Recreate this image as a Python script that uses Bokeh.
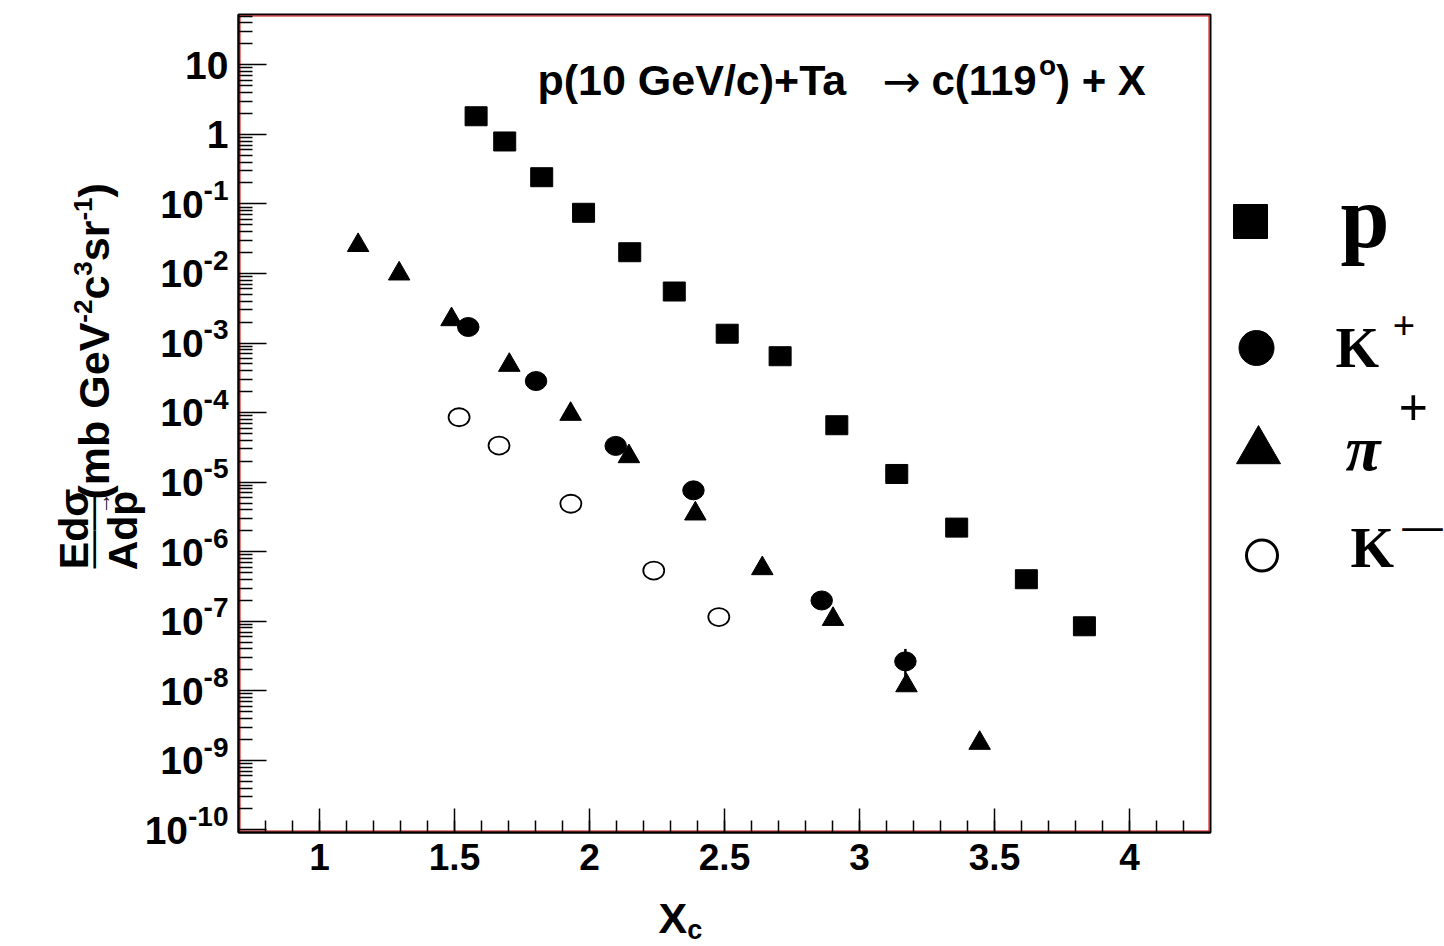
import math
from bokeh.plotting import figure
from bokeh.models import (Range1d, FixedTicker, CustomJSTickFormatter, LinearAxis, LogAxis)
from bokeh.embed import file_html
from bokeh.resources import INLINE
from bokeh.core.properties import value

# ---------------- data ----------------
p_x = [1.580, 1.686, 1.823, 1.978, 2.149, 2.314, 2.510, 2.706, 2.916, 3.138, 3.360, 3.618, 3.833]
p_y = [1.82, 0.79, 0.242, 0.0745, 0.0202, 5.5e-3, 1.36e-3, 6.46e-4, 6.58e-5, 1.31e-5, 2.22e-6, 4.02e-7, 8.47e-8]

kp_x = [1.551, 1.802, 2.097, 2.385, 2.860, 3.170]
kp_y = [1.70e-3, 2.84e-4, 3.32e-5, 7.62e-6, 1.99e-7, 2.65e-8]
kp_err_x = [3.170]
kp_err_lo = [1.60e-8]
kp_err_hi = [4.0e-8]

pip_x = [1.143, 1.295, 1.489, 1.703, 1.930, 2.146, 2.392, 2.640, 2.902, 3.174, 3.445]
pip_y = [2.54e-2, 9.9e-3, 2.18e-3, 4.81e-4, 9.5e-5, 2.34e-5, 3.51e-6, 5.74e-7, 1.07e-7, 1.19e-8, 1.77e-9]

km_x = [1.517, 1.665, 1.931, 2.238, 2.479]
km_y = [8.57e-5, 3.36e-5, 4.89e-6, 5.36e-7, 1.15e-7]

x_major_ticks = [1.0, 1.5, 2.0, 2.5, 3.0, 3.5, 4.0]
x_minor_ticks = [round(0.8 + 0.1 * i, 1) for i in range(35)]
y_tick_exponents = list(range(-10, 2))
legend_names = ["p", "K", "\u03c0", "K"]
legend_sups = ["", "+", "+", "\u2014"]
title_parts = ["p(10 GeV/c)+Ta", "\u2192", "c(119", "o", ") + X"]

# ---------------- layout constants ----------------
W, H = 1444, 946
FL, FR, FT, FB = 238, 1210, 14, 832          # plot box in page pixels
X0, X1 = 0.70, 4.30                           # plot box in data units
LY0, LY1 = -10.037, 1.723                     # log10 of plot box bottom / top
SX = (X1 - X0) / (FR - FL)
SY = (LY1 - LY0) / (FB - FT)
BL = 0.35                                     # baseline correction (em) for text glyphs


def dx(px):
    return X0 + (px - FL) * SX


def dy(py):
    return 10 ** (LY1 - (py - FT) * SY)


AW = {' ': 278, '(': 333, ')': 333, '+': 584, '-': 333, '/': 278, 'A': 722, 'E': 667,
      'G': 778, 'T': 611, 'V': 667, 'X': 667, 'a': 556, 'b': 611, 'c': 556, 'd': 611,
      'e': 556, 'm': 889, 'p': 611, 'r': 389, 's': 556, 'o': 611, '\u03c3': 610,
      '\u2192': 838, '\u2014': 1000}


def adv(s, size):
    return sum(AW.get(ch, 556) for ch in s) / 1000.0 * size


p = figure(width=W, height=H, x_range=Range1d(dx(0), dx(W)), y_range=Range1d(dy(H), dy(0)),
           y_axis_type="log", x_axis_location=None, y_axis_location=None,
           output_backend="svg", toolbar_location=None, min_border=0)
p.title = None
p.grid.visible = False
p.outline_line_color = None
p.background_fill_color = "white"
p.border_fill_color = "white"

# plot box (black frame with thin red inner line)
p.quad(left=[X0], right=[X1], bottom=[10 ** LY0], top=[10 ** LY1], fill_color=None,
       line_color="black", line_width=2)
p.quad(left=[dx(FL + 1.5)], right=[dx(FR - 1.5)], bottom=[dy(FB - 1.5)], top=[dy(FT + 1.5)],
       fill_color=None, line_color="#d40000", line_width=1)

xa = LinearAxis(fixed_location=10 ** LY0, bounds=(X0, X1))
xa.ticker = FixedTicker(ticks=x_major_ticks, minor_ticks=x_minor_ticks)
xa.formatter = CustomJSTickFormatter(code="return tick.toString()")
xa.major_tick_in = 24
xa.major_tick_out = 0
xa.minor_tick_in = 12
xa.minor_tick_out = 0
xa.axis_line_width = 2
xa.major_tick_line_width = 1.5
xa.minor_tick_line_width = 1.5
xa.major_label_text_font = "Liberation Sans"
xa.major_label_text_font_style = "bold"
xa.major_label_text_font_size = "37px"
xa.major_label_text_color = "black"
xa.major_label_standoff = 11
p.add_layout(xa, "below")

y_minor = [m * 10.0 ** k for k in range(-11, 2) for m in range(2, 10)]
y_minor = [v for v in y_minor if LY0 < math.log10(v) < LY1]
ya = LogAxis(fixed_location=X0, bounds=(10 ** LY0, 10 ** LY1))
ya.ticker = FixedTicker(ticks=[10.0 ** k for k in y_tick_exponents], minor_ticks=y_minor)
ya.formatter = CustomJSTickFormatter(code="return ''")
ya.major_tick_in = 28
ya.major_tick_out = 0
ya.minor_tick_in = 14
ya.minor_tick_out = 0
ya.axis_line_width = 2
ya.major_tick_line_width = 1.5
ya.minor_tick_line_width = 1.5
ya.major_label_standoff = 0
p.add_layout(ya, "left")

# data marks
p.segment(x0=kp_err_x, y0=kp_err_lo, x1=kp_err_x, y1=kp_err_hi, line_color="black", line_width=2.5)
p.rect(x=p_x, y=p_y, width=22, height=19, width_units="screen", height_units="screen",
       fill_color="black", line_color="black")
p.ellipse(x=kp_x, y=kp_y, width=21.5, height=19, width_units="screen", height_units="screen",
          fill_color="black", line_color="black")
p.scatter(x=pip_x, y=pip_y, marker="triangle", size=21.5, fill_color="black", line_color="black")
p.ellipse(x=km_x, y=km_y, width=21, height=18, width_units="screen", height_units="screen",
          fill_color=None, line_color="black", line_width=1.8)

SANS = "Liberation Sans"
SERIF = "Liberation Serif"
B = "bold"


def txt(px, py, s, size, font=SANS, style=B, angle=0.0, align="left"):
    if angle == 0.0:
        py = py - BL * size
    else:
        px = px - BL * size
    p.text(x=[dx(px)], y=[dy(py)], text=[s], text_font=value(font), text_font_size=f"{size}px",
           text_font_style=style, text_align=align, text_baseline="alphabetic", angle=angle,
           text_color="black")


def hrun(px, py, segs):
    x = px
    for s, size, rise in segs:
        txt(x, py - rise, s, size)
        x += adv(s, size)


def vrun(bx, py, segs, style=B):
    y = py
    for s, size, rise in segs:
        txt(bx - rise, y, s, size, style=style, angle=math.pi / 2)
        y -= adv(s, size)


# y tick labels: "10" with a superscript exponent
for k in y_tick_exponents:
    v = 10.0 ** k
    if k in (0, 1):
        p.text(x=[X0], y=[v], text=["1" if k == 0 else "10"], x_offset=-10, y_offset=14 - BL * 39,
               text_font=value(SANS), text_font_style=B, text_font_size="39px",
               text_align="right", text_baseline="alphabetic", text_color="black")
    else:
        e = str(k)
        p.text(x=[X0], y=[v], text=[e], x_offset=-10, y_offset=-3.5 - BL * 28,
               text_font=value(SANS), text_font_style=B, text_font_size="28px",
               text_align="right", text_baseline="alphabetic", text_color="black")
        p.text(x=[X0], y=[v], text=["10"], x_offset=-10 - adv(e, 28), y_offset=14 - BL * 39,
               text_font=value(SANS), text_font_style=B, text_font_size="39px",
               text_align="right", text_baseline="alphabetic", text_color="black")

# title inside the frame
hrun(537, 95, [(title_parts[0], 43, 0)])
txt(882, 97, title_parts[1], 46, font="DejaVu Sans", style="normal")
hrun(931, 95, [(title_parts[2], 42, 0), (title_parts[3], 28, 20), (title_parts[4], 42, 0)])

# x axis title
hrun(658, 933, [("X", 43, 0), ("c", 27, -6)])

# y axis title (rotated)
NUM = 41
vrun(88, 530 + adv("Ed\u03c3", NUM) / 2, [("Ed\u03c3", NUM, 0)])
vrun(105, 568, [("\u2014\u2014", 38, 0)], style="normal")
vrun(137, 530 + adv("Adp", NUM) / 2, [("Adp", NUM, 0)])
vrun(109.5, 530 - adv("Adp", NUM) / 2 + adv("p", NUM) / 2 + 11, [("\u2192", 22, 0)], style="normal")
vrun(109, 499, [("(mb GeV", 43, 0), ("-2", 26, 17), ("c", 43, 0), ("3", 26, 17),
                ("sr", 43, 0), ("-1", 26, 17), (")", 43, 0)])

# ---------------- legend ----------------
p.scatter(x=[dx(1250)], y=[dy(221)], marker="square", size=34, fill_color="black", line_color="black")
p.scatter(x=[dx(1256)], y=[dy(347.5)], marker="circle", size=35, fill_color="black", line_color="black")
p.scatter(x=[dx(1258)], y=[dy(450.5)], marker="triangle", size=44, fill_color="black", line_color="black")
p.scatter(x=[dx(1261.5)], y=[dy(555)], marker="circle", size=31, fill_color=None, line_color="black",
          line_width=3)

txt(1340, 248, legend_names[0], 88, font=SERIF)
txt(1335, 367, legend_names[1], 56, font=SERIF)
txt(1392, 339, legend_sups[1], 40, font=SERIF)
txt(1345, 470, legend_names[2], 64, font=SERIF, style="bold italic")
txt(1398, 425, legend_sups[2], 52, font=SERIF)
txt(1350, 567, legend_names[3], 56, font=SERIF)
txt(1402, 539, legend_sups[3], 40, font=SERIF)

open("out.html", "w").write(file_html(p, INLINE))
